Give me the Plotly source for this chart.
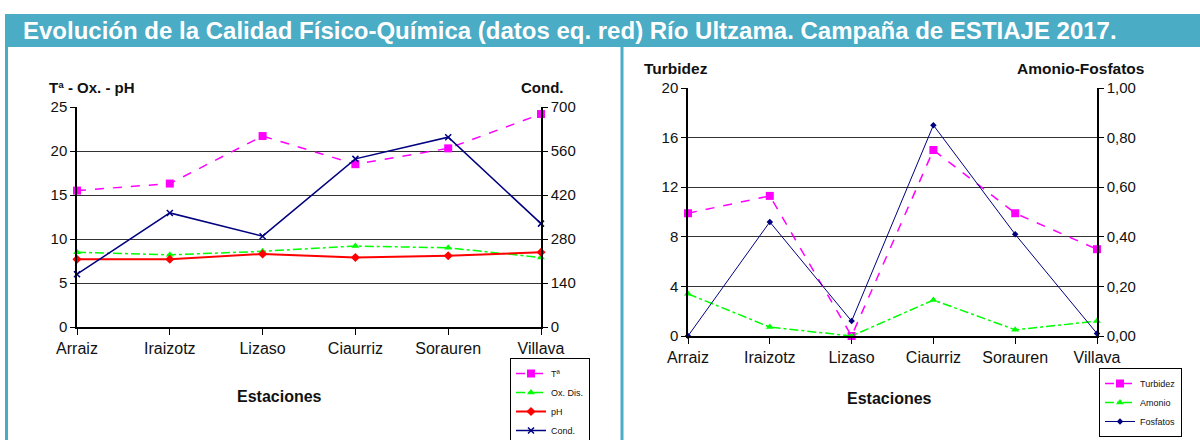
import plotly.graph_objects as go

W, H = 1200, 440

estaciones = ["Arraiz", "Iraizotz", "Lizaso", "Ciaurriz", "Sorauren", "Villava"]
temperatura = [15.5, 16.3, 21.7, 18.5, 20.3, 24.2]
oxigeno = [8.5, 8.2, 8.6, 9.2, 9.0, 7.9]
ph = [7.7, 7.7, 8.3, 7.9, 8.1, 8.5]
conductividad = [168, 363, 289, 535, 604, 329]
turbidez = [9.9, 11.3, 0.0, 15.0, 9.9, 7.0]
amonio = [0.17, 0.036, 0.0, 0.145, 0.025, 0.06]
fosfatos = [0.0, 0.46, 0.06, 0.85, 0.41, 0.01]

left_ticks = [0, 5, 10, 15, 20, 25]
cond_ticks = [0, 140, 280, 420, 560, 700]
turb_ticks = [0, 4, 8, 12, 16, 20]
af_ticks = [0.0, 0.2, 0.4, 0.6, 0.8, 1.0]
af_labels = ["0,00", "0,20", "0,40", "0,60", "0,80", "1,00"]

TEAL = "#4BACC6"
MAG = "#FF00FF"
GRN = "#00FF00"
RED = "#FF0000"
NAVY = "#000080"
FONT = "Liberation Sans, Arial, sans-serif"
TXT = "#111111"


def px(x):
    return x / W


def py(y):
    return 1 - y / H


fig = go.Figure()

# Left chart
fig.add_trace(go.Scatter(x=estaciones, y=temperatura, name="Tª", mode="lines+markers",
                         line=dict(color=MAG, width=1.5, dash="dash"),
                         marker=dict(symbol="square", size=8, color=MAG),
                         xaxis="x", yaxis="y", legend="legend", cliponaxis=False))
fig.add_trace(go.Scatter(x=estaciones, y=oxigeno, name="Ox. Dis.", mode="lines+markers",
                         line=dict(color=GRN, width=1.5, dash="dashdot"),
                         marker=dict(symbol="triangle-up", size=7, color=GRN),
                         xaxis="x", yaxis="y", legend="legend", cliponaxis=False))
fig.add_trace(go.Scatter(x=estaciones, y=ph, name="pH", mode="lines+markers",
                         line=dict(color=RED, width=2),
                         marker=dict(symbol="diamond", size=7, color=RED),
                         xaxis="x", yaxis="y", legend="legend", cliponaxis=False))
fig.add_trace(go.Scatter(x=estaciones, y=conductividad, name="Cond.", mode="lines+markers",
                         line=dict(color=NAVY, width=1.5),
                         marker=dict(symbol="x-thin", size=6, color=NAVY, line=dict(color=NAVY, width=1.5)),
                         xaxis="x", yaxis="y2", legend="legend", cliponaxis=False))

# Right chart
fig.add_trace(go.Scatter(x=estaciones, y=turbidez, name="Turbidez", mode="lines+markers",
                         line=dict(color=MAG, width=1.5, dash="dash"),
                         marker=dict(symbol="square", size=8, color=MAG),
                         xaxis="x2", yaxis="y3", legend="legend2", cliponaxis=False))
fig.add_trace(go.Scatter(x=estaciones, y=amonio, name="Amonio", mode="lines+markers",
                         line=dict(color=GRN, width=1.5, dash="dashdot"),
                         marker=dict(symbol="triangle-up", size=7, color=GRN),
                         xaxis="x2", yaxis="y4", legend="legend2", cliponaxis=False))
fig.add_trace(go.Scatter(x=estaciones, y=fosfatos, name="Fosfatos", mode="lines+markers",
                         line=dict(color=NAVY, width=1),
                         marker=dict(symbol="diamond", size=5, color=NAVY),
                         xaxis="x2", yaxis="y4", legend="legend2", cliponaxis=False))

ytickfont = dict(family=FONT, size=15, color=TXT)
xtickfont = dict(family=FONT, size=16, color=TXT)
xcommon = dict(type="category", range=[0, 5], showgrid=False, showline=True,
               linecolor="black", linewidth=1.5, ticks="outside", ticklen=6,
               tickcolor="black", tickfont=xtickfont, zeroline=False, fixedrange=True,
               automargin=False)
ycommon = dict(showgrid=True, gridcolor="#333", gridwidth=1, showline=True,
               linecolor="black", linewidth=1.5, ticks="outside", ticklen=5,
               tickcolor="black", tickfont=ytickfont, zeroline=False, fixedrange=True,
               automargin=False)

L_x0, L_x1, L_y0, L_y1 = 77, 541, 327, 107
R_x0, R_x1, R_y0, R_y1 = 688, 1097, 336, 88

legfont = dict(family=FONT, size=9, color=TXT)

fig.update_layout(
    width=W, height=H, autosize=False,
    margin=dict(l=0, r=0, t=0, b=0, autoexpand=False),
    paper_bgcolor="white", plot_bgcolor="white",
    font=dict(family=FONT),
    xaxis=dict(domain=[px(L_x0), px(L_x1)], anchor="y", **xcommon),
    yaxis=dict(domain=[py(L_y0), py(L_y1)], anchor="x", range=[0, 25],
               tickvals=left_ticks, **ycommon),
    yaxis2=dict(overlaying="y", side="right", anchor="x", range=[0, 700],
                tickvals=cond_ticks, **{**ycommon, "showgrid": False}),
    xaxis2=dict(domain=[px(R_x0), px(R_x1)], anchor="y3", **xcommon),
    yaxis3=dict(domain=[py(R_y0), py(R_y1)], anchor="x2", range=[0, 20],
                tickvals=turb_ticks, **ycommon),
    yaxis4=dict(overlaying="y3", side="right", anchor="x2", range=[0, 1],
                tickvals=af_ticks, ticktext=af_labels, **{**ycommon, "showgrid": False}),
    legend=dict(xref="container", yref="container", x=px(510), y=py(358),
                xanchor="left", yanchor="top",
                bgcolor="white", bordercolor="black", borderwidth=1,
                font=legfont, itemwidth=30, tracegroupgap=0),
    legend2=dict(xref="container", yref="container", x=px(1099), y=py(368),
                 xanchor="left", yanchor="top",
                 bgcolor="white", bordercolor="black", borderwidth=1,
                 font=legfont, itemwidth=30, tracegroupgap=0),
    showlegend=True,
)

shapes = [
    dict(type="rect", xref="paper", yref="paper", x0=px(5), x1=1, y0=py(47), y1=py(14),
         fillcolor=TEAL, line=dict(width=0), layer="below"),
    dict(type="line", xref="paper", yref="paper", x0=px(6.5), x1=px(6.5), y0=0, y1=py(47),
         line=dict(color=TEAL, width=3), layer="below"),
    dict(type="line", xref="paper", yref="paper", x0=px(622), x1=px(622), y0=0, y1=py(47),
         line=dict(color=TEAL, width=3), layer="below"),
]
fig.update_layout(shapes=shapes)

annotations = [
    dict(text="<b>Evolución de la Calidad Físico-Química (datos eq. red) Río Ultzama. Campaña de ESTIAJE 2017.</b>",
         x=px(21), y=py(31), xanchor="left", yanchor="middle",
         font=dict(family=FONT, size=24, color="white")),
    dict(text="<b>Tª - Ox. - pH</b>", x=px(47), y=py(87), xanchor="left", yanchor="middle",
         font=dict(family=FONT, size=15, color=TXT)),
    dict(text="<b>Cond.</b>", x=px(566), y=py(87), xanchor="right", yanchor="middle",
         font=dict(family=FONT, size=15, color=TXT)),
    dict(text="<b>Estaciones</b>", x=px(279), y=py(396), xanchor="center", yanchor="middle",
         font=dict(family=FONT, size=16, color=TXT)),
    dict(text="<b>Turbidez</b>", x=px(642), y=py(68), xanchor="left", yanchor="middle",
         font=dict(family=FONT, size=15.5, color=TXT)),
    dict(text="<b>Amonio-Fosfatos</b>", x=px(1146), y=py(68), xanchor="right", yanchor="middle",
         font=dict(family=FONT, size=15.5, color=TXT)),
    dict(text="<b>Estaciones</b>", x=px(889), y=py(398), xanchor="center", yanchor="middle",
         font=dict(family=FONT, size=16, color=TXT)),
]
for a in annotations:
    a.update(xref="paper", yref="paper", showarrow=False)
fig.update_layout(annotations=annotations)

fig.write_html("out.html", config={"displayModeBar": False},
               post_script="document.body.style.margin='0';")
